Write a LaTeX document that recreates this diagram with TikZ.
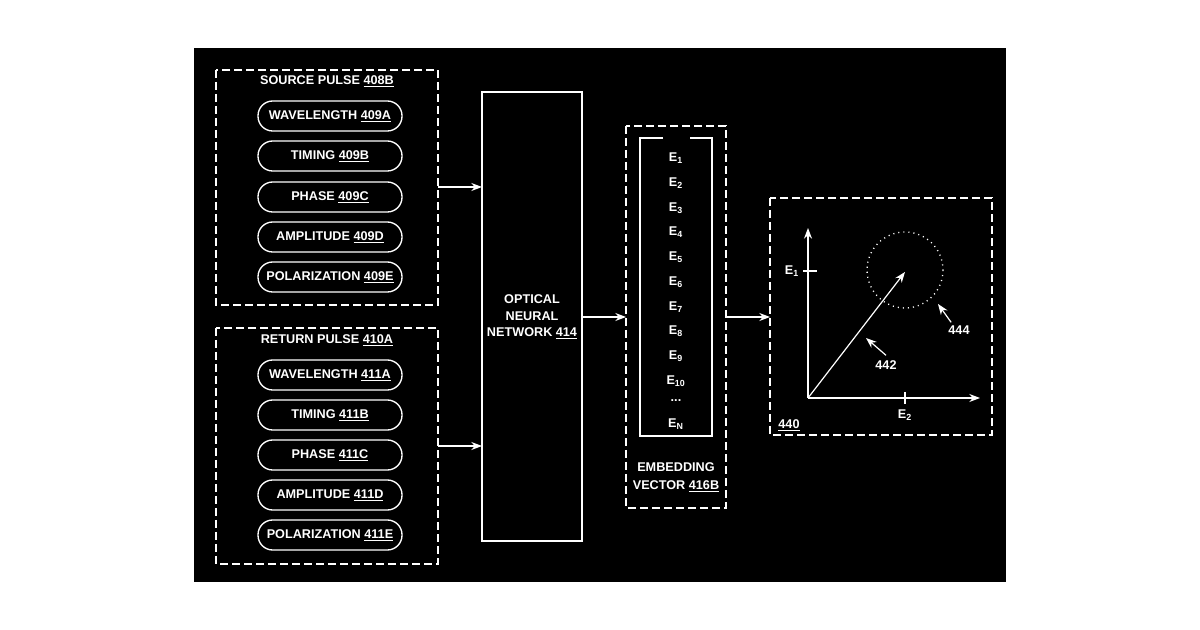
\documentclass[tikz,border=0pt]{standalone}
\usepackage{fontspec}
\setmainfont{Liberation Sans}
\usetikzlibrary{arrows.meta}
\tikzset{
  lbl/.style={text=white,font=\bfseries\fontsize{9.5}{10.5}\selectfont,inner sep=0.75pt},
  pill/.style={draw=white,line width=1pt,rounded corners=11pt,minimum width=108pt,minimum height=22.5pt,lbl},
  dbox/.style={draw=white,line width=1pt,dash pattern=on 6pt off 3pt},
  arr/.style={draw=white,line width=0.9pt,-{Stealth[length=8pt,width=6pt]}},
}
\newcommand{\ul}[1]{\underline{#1}}
\begin{document}
\begin{tikzpicture}[x=0.75pt,y=0.75pt,yscale=-1,xscale=1]
  \useasboundingbox (0,0) rectangle (1200,630);
  \fill[black] (194,48) rectangle (1006,582);

  % source pulse group
  \draw[dbox] (216,70) rectangle (438,305);
  \node[lbl] (srct) at (327,81) {SOURCE PULSE \ul{408B}};
  \node[pill] (s1) at (330,116) {WAVELENGTH \ul{409A}};
  \node[pill] (s2) at (330,156) {TIMING \ul{409B}};
  \node[pill] (s3) at (330,197) {PHASE \ul{409C}};
  \node[pill] (s4) at (330,237) {AMPLITUDE \ul{409D}};
  \node[pill] (s5) at (330,277) {POLARIZATION \ul{409E}};

  % return pulse group
  \draw[dbox] (216,328) rectangle (438,564);
  \node[lbl] (rett) at (327,340) {RETURN PULSE \ul{410A}};
  \node[pill] (r1) at (330,375) {WAVELENGTH \ul{411A}};
  \node[pill] (r2) at (330,415) {TIMING \ul{411B}};
  \node[pill] (r3) at (330,455) {PHASE \ul{411C}};
  \node[pill] (r4) at (330,495) {AMPLITUDE \ul{411D}};
  \node[pill] (r5) at (330,535) {POLARIZATION \ul{411E}};

  % optical neural network
  \draw[white,line width=1pt] (482,92) rectangle (582,541);
  \node[lbl,align=center] (onn) at (532,317) {OPTICAL\\[2pt]NEURAL\\[2pt]NETWORK \ul{414}};
  \coordinate (srcout) at (438,187);
  \coordinate (onnin1) at (482,187);
  \coordinate (retout) at (438,446);
  \coordinate (onnin2) at (482,446);
  \draw[arr] (srcout) -- (onnin1);
  \draw[arr] (retout) -- (onnin2);
  \coordinate (onnout) at (582,317);
  \coordinate (embin) at (626,317);
  \draw[arr] (onnout) -- (embin);

  % embedding vector
  \draw[dbox] (626,126) rectangle (726,508);
  \draw[white,line width=1pt] (663,138) -- (640,138) -- (640,436) -- (712,436) -- (712,138) -- (690,138);
  \foreach \i/\y in {1/158,2/183,3/208,4/232,5/257,6/282,7/307,8/331,9/356,10/381}
    \node[lbl] (e\i) at (676,\y) {E\textsubscript{\i}};
  \node[lbl] (edots) at (676,401) {...};
  \node[lbl] (en) at (676,424) {E\textsubscript{N}};
  \node[lbl,align=center] (embt) at (676,477) {EMBEDDING\\[3pt]VECTOR \ul{416B}};
  \coordinate (embout) at (726,317);
  \coordinate (plotin) at (770,317);
  \draw[arr] (embout) -- (plotin);

  % embedding space plot
  \draw[dbox] (770,198) rectangle (992,435);
  \coordinate (o) at (808,398);
  \coordinate (ytop) at (808,228);
  \coordinate (xend) at (980,398);
  \draw[arr] (o) -- (ytop);
  \draw[arr] (o) -- (xend);
  \draw[white,line width=0.9pt] (803,271) -- (817,271);
  \draw[white,line width=0.9pt] (905,392) -- (905,404);
  \node[lbl] (e1ax) at (792,271) {E\textsubscript{1}};
  \node[lbl] (e2ax) at (905,415) {E\textsubscript{2}};
  \coordinate (vtip) at (905,272);
  \draw[arr] (o) -- (vtip);
  \draw[white,line width=1pt,dash pattern=on 0.8pt off 3pt] (905,270) circle (38);
  \node[lbl] (n444) at (959,330) {444};
  \coordinate (h444) at (938,304);
  \draw[arr] (n444.north west) ++(4,-2) coordinate (t444) (t444) -- (h444);
  \node[lbl] (n442) at (886,365) {442};
  \coordinate (h442) at (866,338);
  \draw[arr] (n442.north) ++(0,-4) coordinate (t442) (t442) -- (h442);
  \node[lbl] (n440) at (789,425) {\ul{440}};
\end{tikzpicture}
\end{document}
